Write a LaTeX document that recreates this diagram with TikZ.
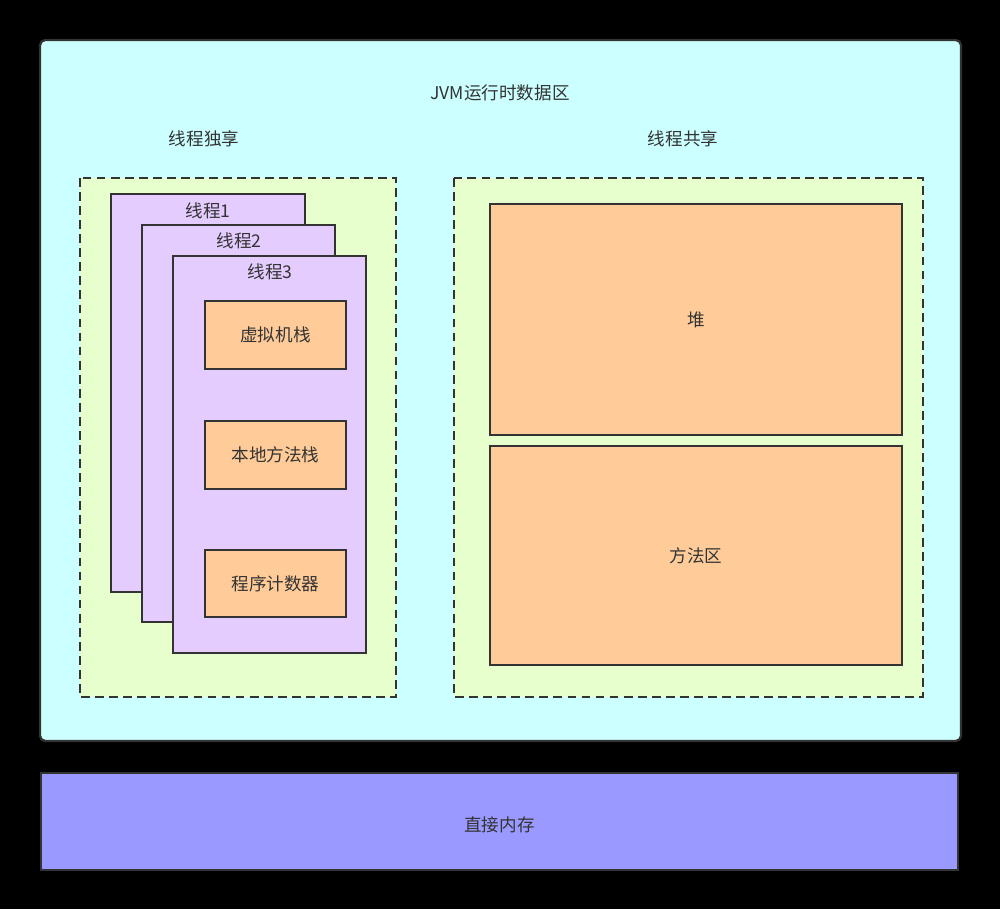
\documentclass[tikz,border=0pt]{standalone}
\usepackage{fontspec}
\setmainfont{Noto Sans CJK SC}
\begin{document}
\definecolor{cyanbg}{HTML}{CCFFFF}
\definecolor{greenbg}{HTML}{E6FFCC}
\definecolor{thread}{HTML}{E5CCFF}
\definecolor{orange}{HTML}{FFCC99}
\definecolor{mem}{HTML}{9999FF}
\definecolor{edge}{HTML}{333333}
\begin{tikzpicture}[x=0.02cm,y=-0.02cm,
  every node/.style={font=\fontsize{10}{12}\selectfont, text=edge},
  box/.style={draw=edge, line width=1.3pt},
  dashbox/.style={draw=edge, line width=1.3pt, dash pattern=on 5pt off 3pt, fill=greenbg}]
\fill[black] (0,0) rectangle (1000,909);
\useasboundingbox (0,0) rectangle (1000,909);
\draw[box, fill=cyanbg, rounded corners=3pt] (40,40) rectangle (961,741);
\node (title) at (500,93) {JVM运行时数据区};
\node (priv) at (204,139) {线程独享};
\node (shared) at (683,139) {线程共享};
\draw[dashbox] (80,178) rectangle (396,697);
\draw[dashbox] (454,178) rectangle (923,697);
\draw[box, fill=thread] (111,194) rectangle (305,592);
\node (t1) at (208,211) {线程1};
\draw[box, fill=thread] (142,225) rectangle (335,622);
\node (t2) at (239,241) {线程2};
\draw[box, fill=thread] (173,256) rectangle (366,653);
\node (t3) at (270,272) {线程3};
\draw[box, fill=orange] (205,301) rectangle (346,369);
\node (vms) at (275.5,335) {虚拟机栈};
\draw[box, fill=orange] (205,421) rectangle (346,489);
\node (nms) at (275.5,455) {本地方法栈};
\draw[box, fill=orange] (205,550) rectangle (346,617);
\node (pc) at (275.5,583.5) {程序计数器};
\draw[box, fill=orange] (490,204) rectangle (902,435);
\node (heap) at (696,320) {堆};
\draw[box, fill=orange] (490,446) rectangle (902,665);
\node (method) at (696,556) {方法区};
\draw[box, fill=mem] (41,773) rectangle (958,870);
\node (direct) at (499.5,825) {直接内存};
\end{tikzpicture}
\end{document}
